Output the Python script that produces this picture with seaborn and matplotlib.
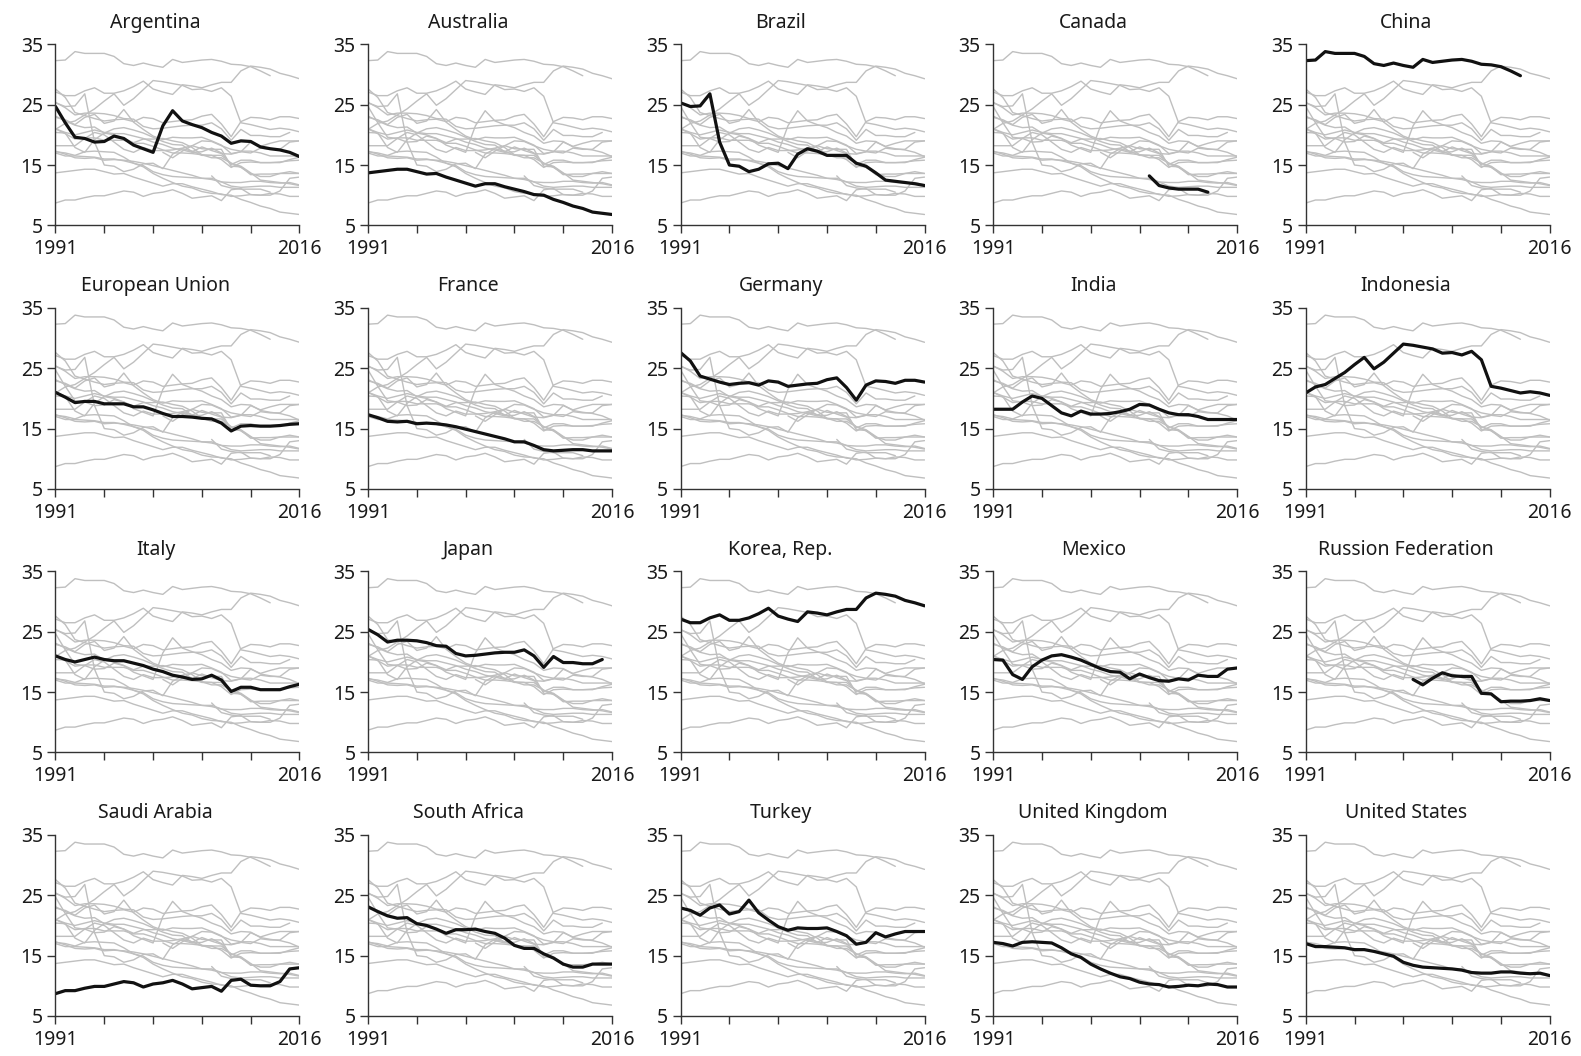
import numpy as np
import pandas as pd
import matplotlib
matplotlib.use("Agg")
import matplotlib.pyplot as plt
import seaborn as sns

nan = np.nan
years = list(range(1991, 2017))

countries = ["Argentina", "Australia", "Brazil", "Canada", "China",
             "European Union", "France", "Germany", "India", "Indonesia",
             "Italy", "Japan", "Korea, Rep.", "Mexico", "Russion Federation",
             "Saudi Arabia", "South Africa", "Turkey", "United Kingdom", "United States"]

argentina = [24.7, 22.0, 19.6, 19.4, 18.8, 18.9, 19.8, 19.4, 18.3, 17.7, 17.1, 21.5, 24.0,
             22.3, 21.7, 21.2, 20.4, 19.8, 18.6, 19.0, 18.9, 18.0, 17.7, 17.5, 17.1, 16.4]
australia = [13.7, 13.9, 14.1, 14.3, 14.3, 13.9, 13.5, 13.6, 13.0, 12.5, 12.0, 11.5, 11.9,
             11.9, 11.4, 11.0, 10.6, 10.1, 10.0, 9.3, 8.8, 8.2, 7.8, 7.2, 7.0, 6.8]
brazil = [25.3, 24.7, 24.8, 26.8, 18.8, 15.0, 14.8, 13.9, 14.3, 15.2, 15.3, 14.4, 16.8,
          17.7, 17.3, 16.6, 16.6, 16.6, 15.3, 14.8, 13.7, 12.5, 12.3, 12.1, 11.9, 11.6]
canada = [nan] * 16 + [13.2, 11.6, 11.2, 11.0, 11.0, 11.0, 10.5] + [nan] * 3
china = [32.3, 32.4, 33.8, 33.5, 33.5, 33.5, 33.0, 31.8, 31.5, 31.9, 31.5, 31.2, 32.5,
         32.0, 32.2, 32.4, 32.5, 32.2, 31.7, 31.6, 31.3, 30.6, 29.8, nan, nan, nan]
eu = [21.0, 20.2, 19.3, 19.5, 19.5, 19.1, 19.1, 19.1, 18.6, 18.6, 18.1, 17.5, 17.0,
      17.0, 16.9, 16.7, 16.6, 15.9, 14.6, 15.4, 15.5, 15.4, 15.4, 15.5, 15.7, 15.8]
france = [17.3, 16.8, 16.2, 16.1, 16.2, 15.8, 15.9, 15.8, 15.6, 15.3, 14.9, 14.5, 14.1,
          13.7, 13.3, 12.8, 12.8, 12.2, 11.5, 11.3, 11.4, 11.5, 11.5, 11.3, 11.3, 11.3]
germany = [27.6, 26.2, 23.7, 23.2, 22.7, 22.3, 22.5, 22.6, 22.2, 22.9, 22.7, 22.0, 22.2,
           22.4, 22.5, 23.1, 23.4, 21.8, 19.7, 22.2, 22.9, 22.8, 22.5, 23.0, 23.0, 22.7]
india = [18.2, 18.2, 18.2, 19.4, 20.4, 20.0, 18.8, 17.6, 17.1, 17.9, 17.4, 17.4, 17.5,
         17.8, 18.2, 19.0, 18.9, 18.2, 17.6, 17.3, 17.3, 17.0, 16.5, 16.5, 16.5, 16.5]
indonesia = [20.9, 21.9, 22.3, 23.3, 24.3, 25.6, 26.8, 24.9, 26.0, 27.5, 29.0, 28.8, 28.5,
             28.2, 27.5, 27.6, 27.2, 27.8, 26.4, 22.0, 21.7, 21.3, 20.9, 21.1, 20.9, 20.5]
italy = [21.0, 20.4, 20.0, 20.4, 20.8, 20.4, 20.2, 20.2, 19.8, 19.4, 18.8, 18.4, 17.8,
         17.5, 17.1, 17.2, 17.8, 17.0, 15.1, 15.8, 15.8, 15.4, 15.4, 15.4, 15.9, 16.3]
japan = [25.4, 24.5, 23.3, 23.6, 23.6, 23.5, 23.2, 22.7, 22.6, 21.4, 21.0, 21.1, 21.3,
         21.5, 21.6, 21.6, 22.0, 21.0, 19.1, 20.9, 19.9, 19.9, 19.7, 19.7, 20.4, nan]
korea = [27.1, 26.5, 26.5, 27.3, 27.8, 26.9, 26.9, 27.3, 28.0, 28.9, 27.6, 27.1, 26.7,
         28.3, 28.1, 27.8, 28.3, 28.7, 28.7, 30.6, 31.4, 31.2, 30.9, 30.2, 29.8, 29.3]
mexico = [20.4, 20.3, 17.9, 17.1, 19.2, 20.3, 21.0, 21.2, 20.8, 20.3, 19.6, 18.9, 18.4,
          18.3, 17.2, 18.0, 17.4, 16.9, 16.8, 17.2, 17.0, 17.8, 17.6, 17.6, 18.8, 19.0]
russia = [nan] * 11 + [17.1, 16.2, 17.3, 18.2, 17.7, 17.6, 17.6, 14.8, 14.7, 13.4, 13.5,
                       13.5, 13.6, 13.9, 13.6]
saudi = [8.7, 9.2, 9.2, 9.6, 9.9, 9.9, 10.3, 10.7, 10.5, 9.8, 10.3, 10.5, 10.9,
         10.3, 9.5, 9.7, 9.9, 9.1, 10.9, 11.1, 10.1, 10.0, 10.0, 10.7, 12.8, 13.0]
south_africa = [23.1, 22.3, 21.6, 21.2, 21.3, 20.3, 20.0, 19.4, 18.7, 19.3, 19.3, 19.4, 19.0,
                18.7, 17.9, 16.7, 16.2, 16.2, 15.3, 14.6, 13.6, 13.1, 13.1, 13.6, 13.6, 13.6]
turkey = [22.9, 22.5, 21.7, 22.9, 23.4, 21.9, 22.3, 24.2, 22.1, 20.9, 19.8, 19.2, 19.6,
          19.5, 19.5, 19.6, 19.0, 18.3, 16.9, 17.2, 18.8, 18.1, 18.6, 19.0, 19.0, 19.0]
uk = [17.2, 17.0, 16.6, 17.2, 17.3, 17.2, 17.1, 16.3, 15.3, 14.7, 13.6, 12.8, 12.1,
      11.5, 11.2, 10.6, 10.3, 10.2, 9.8, 9.9, 10.1, 10.0, 10.3, 10.2, 9.8, 9.8]
us = [17.0, 16.5, 16.5, 16.4, 16.3, 16.0, 16.0, 15.7, 15.3, 14.9, 13.9, 13.4, 13.1,
      13.0, 12.9, 12.8, 12.6, 12.2, 12.1, 12.1, 12.3, 12.3, 12.1, 12.0, 12.1, 11.7]

series = [argentina, australia, brazil, canada, china, eu, france, germany, india, indonesia,
          italy, japan, korea, mexico, russia, saudi, south_africa, turkey, uk, us]

y_ticks = [5, 15, 25, 35]
x_ticks = [1991, 1996, 2001, 2006, 2011, 2016]
x_tick_labels = ["1991", "", "", "", "", "2016"]

rows = []
for name, vals in zip(countries, series):
    for yr, v in zip(years, vals):
        rows.append({"country": name, "year": yr, "value": v})
df = pd.DataFrame(rows).dropna()

sns.set_theme(style="ticks")
plt.rcParams["font.family"] = ["Noto Sans", "DejaVu Sans"]
plt.rcParams["axes.edgecolor"] = "#333333"
plt.rcParams["axes.linewidth"] = 1.0
plt.rcParams["xtick.color"] = "#333333"
plt.rcParams["ytick.color"] = "#333333"
plt.rcParams["xtick.labelcolor"] = "#1a1a1a"
plt.rcParams["ytick.labelcolor"] = "#1a1a1a"

fig, axes = plt.subplots(4, 5, figsize=(15.81, 10.56), dpi=100)
fig.subplots_adjust(left=0.0351, right=0.9802, top=0.958, bottom=0.0379,
                    wspace=0.281, hspace=0.456)

for ax, name in zip(axes.flat, countries):
    sns.lineplot(data=df, x="year", y="value", units="country", estimator=None,
                 color="#bfbfbf", linewidth=1.0, ax=ax, legend=False)
    sns.lineplot(data=df[df["country"] == name], x="year", y="value",
                 color="#111111", linewidth=2.3, ax=ax, legend=False)
    ax.set_xlim(1991, 2016)
    ax.set_ylim(5, 35)
    ax.set_xticks(x_ticks)
    ax.set_xticklabels(x_tick_labels)
    ax.set_yticks(y_ticks)
    ax.tick_params(axis="both", direction="out", length=6, width=1.0,
                   labelsize=14, pad=3)
    ax.tick_params(axis="x", pad=4)
    ax.set_xlabel("")
    ax.set_ylabel("")
    ax.set_title(name, fontsize=14, x=0.41, pad=12, color="#1a1a1a")
    ax.spines["top"].set_visible(False)
    ax.spines["right"].set_visible(False)

fig.savefig("out.png", dpi=100)
